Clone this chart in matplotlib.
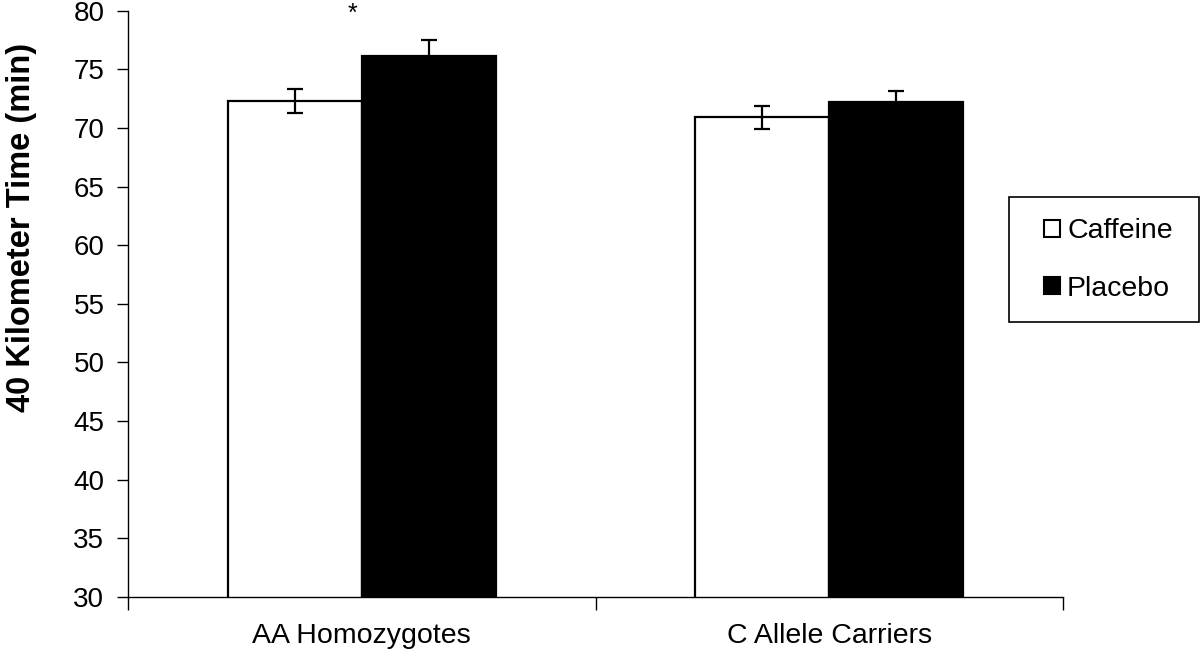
import numpy as np
import matplotlib
matplotlib.use("Agg")
import matplotlib.pyplot as plt
from matplotlib.patches import Rectangle, Patch

plt.rcParams['font.family'] = ['Liberation Sans', 'DejaVu Sans']

groups = ["AA Homozygotes", "C Allele Carriers"]
caffeine = [72.3, 70.9]
caffeine_err = [1.05, 1.0]
placebo = [76.1, 72.2]
placebo_err = [1.4, 0.95]
yticks = list(range(30, 81, 5))

fig = plt.figure(figsize=(12, 6.51), dpi=100)
ax = fig.add_axes([128 / 1200, 1 - 597 / 651, (1063 - 128) / 1200, (597 - 10.7) / 651])

x = np.arange(len(groups))
w = 0.287
errStyle = dict(ecolor="black", elinewidth=1.6, capsize=6, capthick=1.6)
ax.bar(x - w / 2, caffeine, w, yerr=caffeine_err, color="white", edgecolor="black",
       linewidth=1.6, error_kw=errStyle, label="Caffeine")
ax.bar(x + w / 2, placebo, w, yerr=placebo_err, color="black", edgecolor="black",
       linewidth=1.6, error_kw=errStyle, label="Placebo")

ax.set_xlim(-0.5, 1.5)
ax.set_ylim(30, 80)
ax.set_yticks(yticks)
ax.tick_params(axis="y", direction="out", length=8, width=1, labelsize=20, pad=9)

ax.set_xticks([-0.5, 0.5, 1.5])
ax.set_xticklabels([])
ax.set_xticks(x, minor=True)
ax.set_xticklabels(groups, minor=True)
ax.tick_params(axis="x", which="major", direction="out", length=9, width=1)
ax.tick_params(axis="x", which="minor", length=0, labelsize=20.5, pad=19)

for s in ["top", "right"]:
    ax.spines[s].set_visible(False)
for s in ["left", "bottom"]:
    ax.spines[s].set_linewidth(1)

# label sits high on the axis in the original, close to the left edge
ax.set_ylabel("40 Kilometer Time (min)", fontsize=23.5, fontweight="bold")
ax.yaxis.set_label_coords(-0.097, 0.63)

# significance marker
ax.text(-0.02, 79.7, "*", ha="center", va="center", fontsize=18, clip_on=False)

# legend frame drawn separately so it can run to the figure edge
fig.patches.append(Rectangle((1009 / 1200, 1 - 322 / 651), 190 / 1200, 125 / 651,
                             transform=fig.transFigure, facecolor="white",
                             edgecolor="black", linewidth=1.2))
handles = [Patch(facecolor="white", edgecolor="black", linewidth=1.5),
           Patch(facecolor="black", edgecolor="black", linewidth=1.5)]
fig.legend(handles, ["Caffeine", "Placebo"], loc="center left",
           bbox_to_anchor=(1030 / 1200, 1 - 260 / 651), frameon=False,
           fontsize=20.5, handlelength=0.55, handleheight=0.55, handletextpad=0.25,
           labelspacing=1.1, borderpad=0)

fig.savefig("out.png", dpi=100)
